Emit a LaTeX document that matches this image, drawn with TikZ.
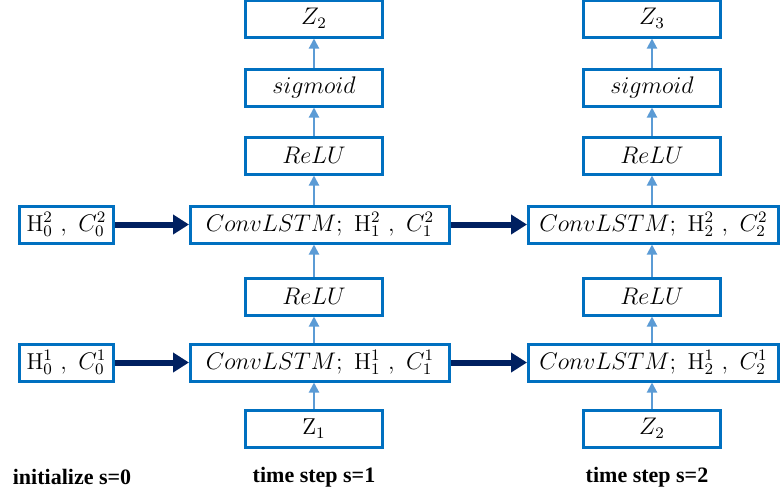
\documentclass[tikz,border=0pt]{standalone}
\usepackage{fontspec}
\newfontfamily\capfont{Liberation Serif Bold}
\usetikzlibrary{arrows.meta, positioning}

\definecolor{boxblue}{RGB}{0,112,192}
\definecolor{flowblue}{RGB}{91,155,213}
\definecolor{navy}{RGB}{0,32,96}

\begin{document}
\begin{tikzpicture}[
    x=0.5pt, y=-0.5pt,
    >=Latex,
    box/.style={
        draw=boxblue,
        line width=1.5pt,
        rectangle,
        inner sep=0pt,
        minimum height=18.5pt,
        minimum width=68.5pt,
        font=\fontsize{11.5}{13}\selectfont
    },
    cell/.style={box, minimum width=129.5pt},
    init/.style={box, minimum width=47pt},
    state/.style={-{Triangle[length=8pt,width=9.5pt]}, line width=3pt, draw=navy},
    flow/.style={-{Triangle[length=5pt,width=5pt]}, line width=1pt, draw=flowblue},
    steplabel/.style={font=\capfont\fontsize{11}{13}\selectfont}
]
\useasboundingbox (0,0) rectangle (782,494);

% first time step
\node[box] (zinA) at (314,428.5) {$\mathrm{Z}_1$};
\node[cell, above=13pt of zinA, xshift=3pt] (cellA1) {$ConvLSTM;\ \mathrm{H}_1^1\ ,\ C_1^1$};
\node[box, above=13pt of cellA1, xshift=-3pt] (reluA1) {$ReLU$};
\node[cell, above=16pt of reluA1, xshift=3pt] (cellA2) {$ConvLSTM;\ \mathrm{H}_1^2\ ,\ C_1^2$};
\node[box, above=14.5pt of cellA2, xshift=-3pt] (reluA2) {$ReLU$};
\node[box, above=14pt of reluA2] (sigA) {$sigmoid$};
\node[box, above=14.5pt of sigA] (zoutA) {$Z_2$};

% second time step
\node[box] (zinB) at (652,428.5) {$Z_2$};
\node[cell, minimum width=125pt, above=13pt of zinB, xshift=0.75pt] (cellB1) {$ConvLSTM;\ \mathrm{H}_2^1\ ,\ C_2^1$};
\node[box, above=13pt of cellB1, xshift=-0.75pt] (reluB1) {$ReLU$};
\node[cell, minimum width=125pt, above=16pt of reluB1, xshift=0.75pt] (cellB2) {$ConvLSTM;\ \mathrm{H}_2^2\ ,\ C_2^2$};
\node[box, above=14.5pt of cellB2, xshift=-0.75pt] (reluB2) {$ReLU$};
\node[box, above=14pt of reluB2] (sigB) {$sigmoid$};
\node[box, above=14.5pt of sigB] (zoutB) {$Z_3$};

% initial states
\node[init, left=37pt of cellA1] (initA1) {$\mathrm{H}_0^1\ ,\ C_0^1$};
\node[init, left=37pt of cellA2] (initA2) {$\mathrm{H}_0^2\ ,\ C_0^2$};

% step captions
\node[steplabel] (capInit) at (72,477) {initialize s=0};
\node[steplabel] (capA) at (314,477) {time step s=1};
\node[steplabel] (capB) at (647,477) {time step s=2};

% states passed forward
\draw[state] (initA1) -- (cellA1);
\draw[state] (initA2) -- (cellA2);
\draw[state] (cellA1) -- (cellB1);
\draw[state] (cellA2) -- (cellB2);

% data flow up each column
\foreach \c in {A,B} {
    \draw[flow] (zin\c) -- (zin\c |- cell\c1.south);
    \draw[flow] (relu\c1 |- cell\c1.north) -- (relu\c1);
    \draw[flow] (relu\c1) -- (relu\c1 |- cell\c2.south);
    \draw[flow] (relu\c2 |- cell\c2.north) -- (relu\c2);
    \draw[flow] (relu\c2) -- (sig\c);
    \draw[flow] (sig\c) -- (zout\c);
}

\end{tikzpicture}
\end{document}
